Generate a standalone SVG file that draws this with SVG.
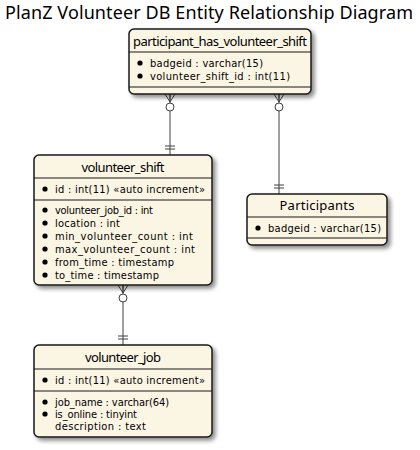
<svg xmlns="http://www.w3.org/2000/svg" width="420" height="450" viewBox="0 0 420 450">
<style>
text{font-family:"Noto Sans","DejaVu Sans",sans-serif;fill:#000}
.title{font-size:18px}
.hd{font-size:13px;text-anchor:middle}
.at{font-size:11px;font-family:"DejaVu Sans Condensed","DejaVu Sans",sans-serif}
.box{fill:#FBF5E4;stroke:#181818;stroke-width:1.5;filter:url(#sh)}
.sep{stroke:#181818;stroke-width:1.2}
.bul{fill:#000}
.cn line,.cn path{stroke:#404040;stroke-width:1;fill:none}
.cn circle{stroke:#404040;stroke-width:1;fill:#fff}
</style>
<defs>
<filter id="sh" x="-10%" y="-10%" width="130%" height="140%">
<feGaussianBlur in="SourceAlpha" stdDeviation="2"/>
<feOffset dx="3" dy="3" result="b"/>
<feComponentTransfer><feFuncA type="linear" slope="0.45"/></feComponentTransfer>
<feMerge><feMergeNode/><feMergeNode in="SourceGraphic"/></feMerge>
</filter>
</defs>
<rect width="420" height="450" fill="#fff"/>
<text class="title" x="209" y="19" text-anchor="middle" textLength="408">PlanZ Volunteer DB Entity Relationship Diagram</text>

<g class="cn" id="connectors">
<line x1="170" y1="94" x2="170" y2="155"/>
<path d="M165,94 L170,102 M170,94 L170,102 M175,94 L170,102"/>
<circle cx="170" cy="107" r="4"/>
<path d="M165,146 H175 M165,149 H175"/>
<line x1="279" y1="94" x2="279" y2="194"/>
<path d="M274,94 L279,102 M279,94 L279,102 M284,94 L279,102"/>
<circle cx="279" cy="107" r="4"/>
<path d="M274,185 H284 M274,188 H284"/>
<line x1="123" y1="285" x2="123" y2="345"/>
<path d="M118,285 L123,293 M123,285 L123,293 M128,285 L123,293"/>
<circle cx="123" cy="298" r="4"/>
<path d="M118,336 H128 M118,339 H128"/>
</g>

<g id="participant_has_volunteer_shift">
<rect class="box" x="129" y="29" width="182" height="65" rx="5"/>
<line class="sep" x1="129" y1="52" x2="311" y2="52"/>
<line class="sep" x1="129" y1="87" x2="311" y2="87"/>
<text class="hd" x="220" y="45.5" textLength="174">participant_has_volunteer_shift</text>
<circle class="bul" cx="140" cy="63" r="2.6"/>
<text class="at" x="150" y="67" textLength="113">badgeid : varchar(15)</text>
<circle class="bul" cx="140" cy="76" r="2.6"/>
<text class="at" x="150" y="80" textLength="140">volunteer_shift_id : int(11)</text>
</g>

<g id="volunteer_shift">
<rect class="box" x="34" y="155" width="178" height="130" rx="5"/>
<line class="sep" x1="34" y1="178" x2="212" y2="178"/>
<line class="sep" x1="34" y1="200" x2="212" y2="200"/>
<text class="hd" x="123" y="171.5" textLength="83">volunteer_shift</text>
<circle class="bul" cx="45" cy="189" r="2.6"/>
<text class="at" x="55" y="193" textLength="150">id : int(11) «auto increment»</text>
<circle class="bul" cx="45" cy="210" r="2.6"/>
<text class="at" x="55" y="214" textLength="98">volunteer_job_id : int</text>
<circle class="bul" cx="45" cy="223" r="2.6"/>
<text class="at" x="55" y="227" textLength="65">location : int</text>
<circle class="bul" cx="45" cy="236" r="2.6"/>
<text class="at" x="55" y="240" textLength="138">min_volunteer_count : int</text>
<circle class="bul" cx="45" cy="249" r="2.6"/>
<text class="at" x="55" y="253" textLength="140">max_volunteer_count : int</text>
<circle class="bul" cx="45" cy="262" r="2.6"/>
<text class="at" x="55" y="266" textLength="119">from_time : timestamp</text>
<circle class="bul" cx="45" cy="275" r="2.6"/>
<text class="at" x="55" y="279" textLength="104">to_time : timestamp</text>
</g>

<g id="participants">
<rect class="box" x="247" y="194" width="140" height="51" rx="5"/>
<line class="sep" x1="247" y1="217" x2="387" y2="217"/>
<line class="sep" x1="247" y1="238" x2="387" y2="238"/>
<text class="hd" x="317" y="210" textLength="75">Participants</text>
<circle class="bul" cx="258" cy="228" r="2.6"/>
<text class="at" x="268" y="232" textLength="113">badgeid : varchar(15)</text>
</g>

<g id="volunteer_job">
<rect class="box" x="34" y="345" width="178" height="92" rx="5"/>
<line class="sep" x1="34" y1="369" x2="212" y2="369"/>
<line class="sep" x1="34" y1="391" x2="212" y2="391"/>
<text class="hd" x="123" y="362" textLength="76">volunteer_job</text>
<circle class="bul" cx="45" cy="380" r="2.6"/>
<text class="at" x="55" y="384" textLength="150">id : int(11) «auto increment»</text>
<circle class="bul" cx="45" cy="402" r="2.6"/>
<text class="at" x="55" y="406" textLength="114">job_name : varchar(64)</text>
<circle class="bul" cx="45" cy="414" r="2.6"/>
<text class="at" x="55" y="418" textLength="82">is_online : tinyint</text>
<text class="at" x="55" y="430" textLength="91">description : text</text>
</g>
</svg>
